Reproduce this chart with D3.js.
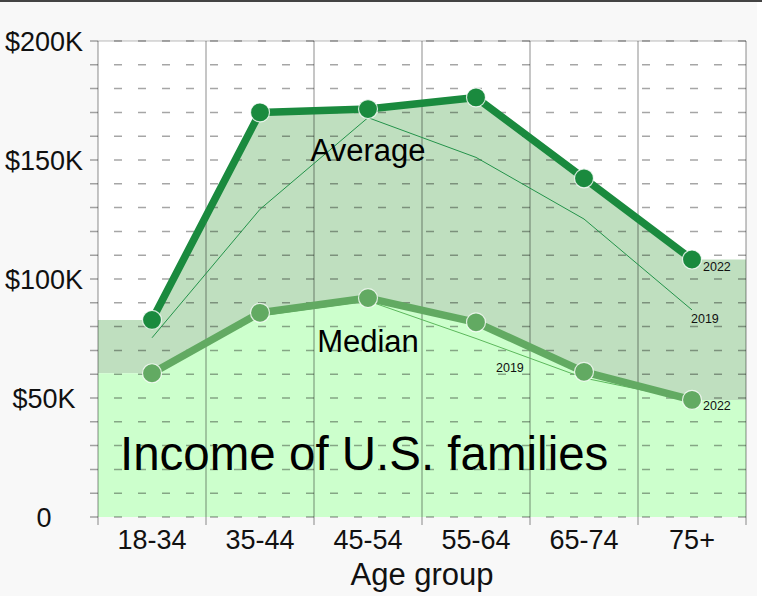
<!DOCTYPE html>
<html>
<head>
<meta charset="utf-8">
<script src="https://cdn.jsdelivr.net/npm/d3@7"></script>
<style>
  body { margin: 0; background: #fff; }
  svg { display: block; font-family: "Liberation Sans", Arial, sans-serif; }
</style>
</head>
<body>
<svg id="chart" width="762" height="599"></svg>
<script>
// data (thousands of dollars)
const ageGroups = ["18-34", "35-44", "45-54", "55-64", "65-74", "75+"];
const average2022 = [82.8, 170.0, 171.4, 176.3, 142.3, 108.2];
const median2022 = [60.4, 85.8, 92.0, 81.8, 61.0, 49.2];
const average2019 = [75.3, 129.3, 167.8, 151.1, 125.2, 87.0];
const median2019 = [59.5, 84.5, 90.8, 75.0, 58.4, 49.0];
const yTickValues = [0, 50, 100, 150, 200];
const yTickLabels = ["0", "$50K", "$100K", "$150K", "$200K"];

const svg = d3.select("#chart");
const plotL = 98, plotR = 746, plotT = 41, plotB = 517;

const x = d3.scaleBand().domain(ageGroups).range([plotL, plotR]);
const y = d3.scaleLinear().domain([0, 200]).range([plotB, plotT]);
const cx = d => x(d) + x.bandwidth() / 2;

// page background
svg.append("rect").attr("width", 757).attr("height", 596).attr("fill", "#f8f8f8");
svg.append("rect").attr("width", 762).attr("height", 2).attr("fill", "#444");
svg.append("rect").attr("x", plotL).attr("y", plotT)
  .attr("width", plotR - plotL).attr("height", plotB - plotT).attr("fill", "#fff");

// stepped ends: flat from plot edge to first/last category center
function withEnds(vals) {
  const pts = ageGroups.map((g, i) => [cx(g), vals[i]]);
  return [[plotL, vals[0]], ...pts, [plotR, vals[vals.length - 1]]];
}

const bandArea = d3.area()
  .x(d => d[0]).y0(d => y(d[1])).y1(d => y(d[2]));

const avgPts = withEnds(average2022);
const medPts = withEnds(median2022);

svg.append("path")
  .datum(avgPts.map((p, i) => [p[0], medPts[i][1], p[1]]))
  .attr("d", bandArea).attr("fill", "#bfdfbf");

svg.append("path")
  .datum(medPts.map(p => [p[0], 0, p[1]]))
  .attr("d", bandArea).attr("fill", "#ccffcc");

// dashed horizontal grid every 10K
const grid = svg.append("g");
grid.selectAll("line").data(d3.range(0, 201, 10)).join("line")
  .attr("x1", plotL - 8).attr("x2", plotR)
  .attr("y1", d => y(d)).attr("y2", d => y(d))
  .attr("stroke", "#000").attr("stroke-opacity", 0.35)
  .attr("stroke-width", 1.5)
  .attr("stroke-dasharray", "8,16");

// top border
svg.append("line").attr("x1", plotL).attr("x2", plotR)
  .attr("y1", plotT).attr("y2", plotT)
  .attr("stroke", "#000").attr("stroke-opacity", 0.18).attr("stroke-width", 1.5);

// vertical category separators
const bounds = ageGroups.map(g => x(g)).concat([plotR]);
svg.append("g").selectAll("line").data(bounds).join("line")
  .attr("x1", d => d).attr("x2", d => d)
  .attr("y1", plotT).attr("y2", plotB + 8)
  .attr("stroke", "#000").attr("stroke-opacity", 0.3).attr("stroke-width", 1.5);

// y labels
svg.append("g").selectAll("text").data(yTickValues).join("text")
  .attr("x", 44).attr("y", d => y(d)).attr("dy", "0.36em")
  .attr("text-anchor", "middle").attr("font-size", 27).attr("fill", "#111")
  .text((d, i) => yTickLabels[i]);

// x labels
svg.append("g").selectAll("text").data(ageGroups).join("text")
  .attr("x", d => cx(d)).attr("y", 549)
  .attr("text-anchor", "middle").attr("font-size", 27).attr("fill", "#111")
  .text(d => d);

svg.append("text").attr("x", (plotL + plotR) / 2).attr("y", 585)
  .attr("text-anchor", "middle").attr("font-size", 31).attr("fill", "#111")
  .text("Age group");

// title inside plot
svg.append("text").attr("x", 120).attr("y", 470)
  .attr("font-size", 47.5).attr("fill", "#000")
  .text("Income of U.S. families");

const line = d3.line().x((d, i) => cx(ageGroups[i])).y(d => y(d));

// 2019 thin lines
svg.append("path").datum(median2019).attr("d", line)
  .attr("fill", "none").attr("stroke", "#5cb85c").attr("stroke-width", 1);
svg.append("path").datum(average2019).attr("d", line)
  .attr("fill", "none").attr("stroke", "#23934a").attr("stroke-width", 1);

// 2022 thick lines with dots
function series(vals, color) {
  svg.append("path").datum(vals).attr("d", line)
    .attr("fill", "none").attr("stroke", color).attr("stroke-width", 7.5)
    .attr("stroke-linejoin", "round");
  svg.append("g").selectAll("circle").data(vals).join("circle")
    .attr("cx", (d, i) => cx(ageGroups[i])).attr("cy", d => y(d))
    .attr("r", 9.5).attr("fill", color)
    .attr("stroke", "#fff").attr("stroke-opacity", 0.8).attr("stroke-width", 1.2);
}
series(median2022, "#62aa62");
series(average2022, "#1a8a3e");

// labels
const last = ageGroups.length - 1;
svg.append("text").attr("x", cx(ageGroups[2])).attr("y", 161)
  .attr("text-anchor", "middle").attr("font-size", 31).attr("fill", "#000")
  .text("Average");
svg.append("text").attr("x", cx(ageGroups[2])).attr("y", 352)
  .attr("text-anchor", "middle").attr("font-size", 31).attr("fill", "#000")
  .text("Median");

const small = [
  [cx(ageGroups[last]) + 11, y(average2022[last]) + 12, "2022"],
  [cx(ageGroups[last]) + 11, y(median2022[last]) + 10, "2022"],
  [cx(ageGroups[last]) - 1, y(average2019[last]) + 13, "2019"],
  [cx(ageGroups[3]) + 20, y(median2019[3]) + 33, "2019"]
];
svg.append("g").selectAll("text").data(small).join("text")
  .attr("x", d => d[0]).attr("y", d => d[1])
  .attr("font-size", 12.5).attr("fill", "#111")
  .text(d => d[2]);
</script>
</body>
</html>
